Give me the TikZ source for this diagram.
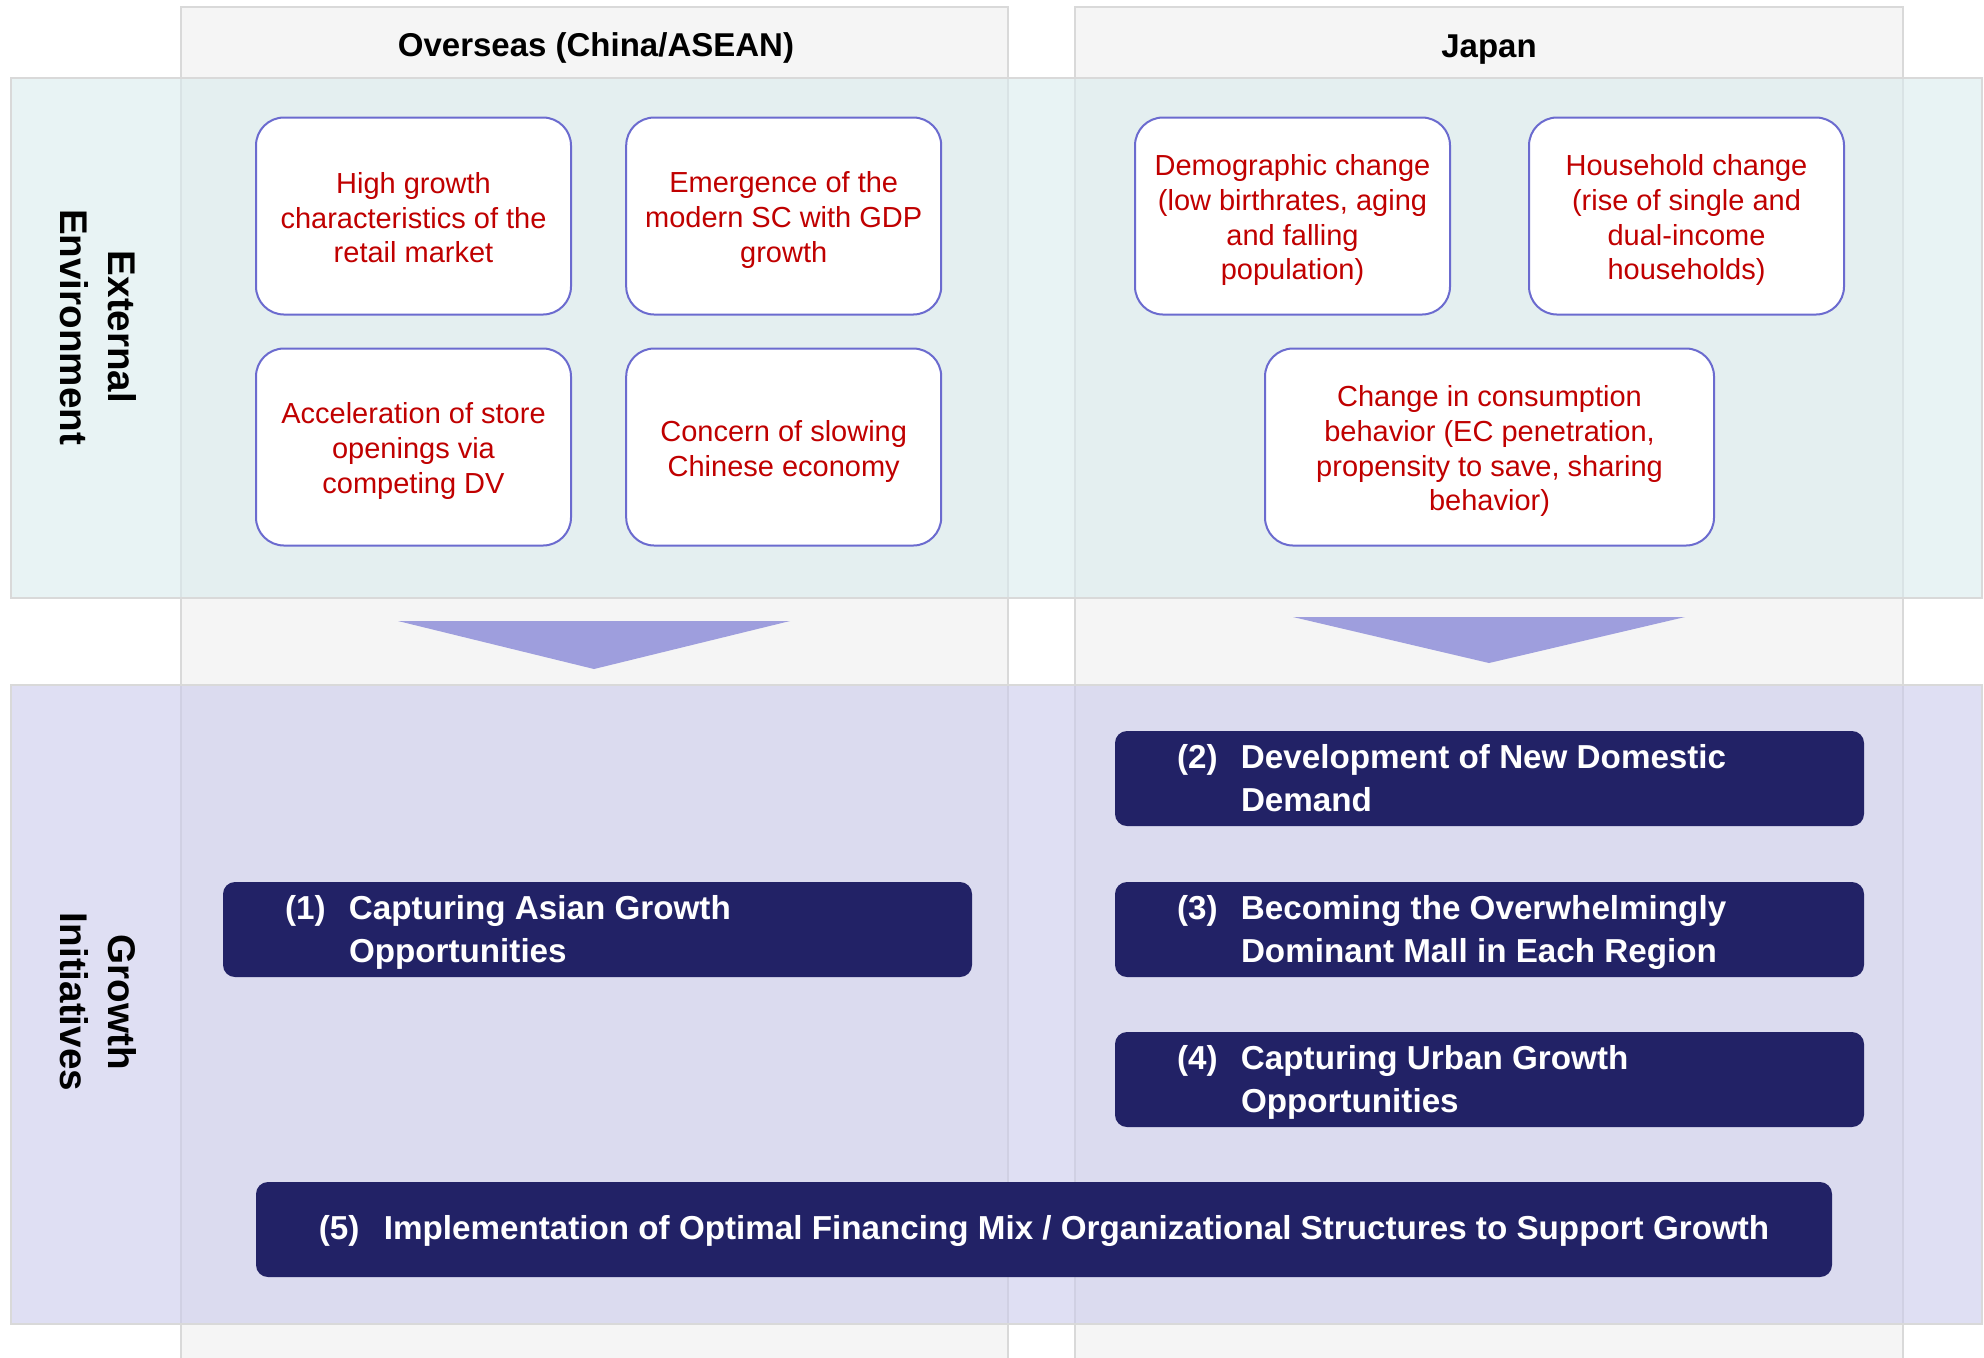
\documentclass[tikz,border=0pt]{standalone}
\usepackage{fontspec}
\setmainfont{Liberation Sans}
\usepackage{array}

\definecolor{colfill}{HTML}{F5F5F5}
\definecolor{gridline}{HTML}{D9D9D9}
\definecolor{envband}{RGB}{217,235,238}
\definecolor{initband}{RGB}{202,203,235}
\definecolor{arrowfill}{HTML}{9E9EDD}
\definecolor{boxline}{HTML}{6B6BCF}
\definecolor{redtext}{HTML}{C00000}
\definecolor{navy}{HTML}{222266}

% struts for the factor boxes: full ascent on the first line, full descent on the last
\newcommand\fsa{\rule{0pt}{14.7pt}}
\newcommand\fsz{\rule[-2.7pt]{0pt}{2.7pt}}

\begin{document}
\begin{tikzpicture}[x=0.5pt,y=-0.5pt,
  grid/.style={draw=gridline, line width=1pt},
  header/.style={font=\bfseries\fontsize{16.5}{20}\selectfont, text=black},
  sidelabel/.style={rotate=-90, align=center, font=\bfseries\fontsize{19.3}{24}\selectfont},
  envbox/.style={draw=boxline, line width=1pt, fill=white, rounded corners=14pt,
    minimum width=157.5pt, minimum height=98.5pt, inner sep=0pt, align=center,
    text=redtext, font=\fontsize{14.5}{17.4}\selectfont},
  initbox/.style={fill=navy, rounded corners=6pt, minimum width=374.5pt,
    minimum height=47.5pt, inner sep=0pt},
  inittext/.style={text=white, inner sep=0pt, font=\bfseries\fontsize{16.6}{21.5}\selectfont},
  trend/.style={fill=arrowfill}
]
\useasboundingbox (0,0) rectangle (1984,1357);
\fill[white] (0,0) rectangle (1984,1357);

% region columns
\fill[colfill] (181,7) rectangle (1008,1362);
\draw[grid] (181,1362) -- (181,7) -- (1008,7) -- (1008,1362);
\fill[colfill] (1075,7) rectangle (1903,1362);
\draw[grid] (1075,1362) -- (1075,7) -- (1903,7) -- (1903,1362);
\draw[grid] (181,78) -- (1008,78);
\draw[grid] (1075,78) -- (1903,78);

\node[header] (hOverseas) at (596,47.5) {Overseas (China/ASEAN)};
\node[header] (hJapan) at (1489,50) {Japan};

% horizontal bands
\fill[envband, opacity=0.6] (11,78) rectangle (1982,598);
\draw[grid] (11,78) rectangle (1982,598);
\fill[initband, opacity=0.6] (11,685) rectangle (1982,1324);
\draw[grid] (11,685) rectangle (1982,1324);

\node[sidelabel] (lblEnv) at (98.5,327) {External\\Environment};
\node[sidelabel] (lblInit) at (98.5,1002) {Growth\\Initiatives};

% external environment factors
\node[envbox] (e1) at (413.5,216) {\fsa High growth\\characteristics of the\\retail market\fsz};
\node[envbox] (e2) at (783.7,216) {\fsa Emergence of the\\modern SC with GDP\\growth\fsz};
\node[envbox] (e3) at (413.5,447) {\fsa Acceleration of store\\openings via\\competing DV\fsz};
\node[envbox] (e4) at (783.7,447) {\fsa Concern of slowing\\Chinese economy\fsz};
\node[envbox] (e5) at (1292.5,216) {\fsa Demographic change\\(low birthrates, aging\\and falling\\population)\fsz};
\node[envbox] (e6) at (1686.5,216) {\fsa Household change\\(rise of single and\\dual-income\\households)\fsz};
\node[envbox, minimum width=224.5pt] (e7) at (1489.5,447) {\fsa Change in consumption\\behavior (EC penetration,\\propensity to save, sharing\\behavior)\fsz};

% downward chevrons
\fill[trend] (398,621) -- (790,621) -- (594,669) -- cycle;
\fill[trend] (1293,617) -- (1685,617) -- (1489,663) -- cycle;

% growth initiatives
\node[initbox] (n1) at (597.5,929.5) {};
\node[initbox] (n2) at (1489.5,778.5) {};
\node[initbox] (n3) at (1489.5,929.5) {};
\node[initbox] (n4) at (1489.5,1079.5) {};
\node[initbox, minimum width=788pt] (n5) at (1044,1229.5) {};

\node[inittext, anchor=west] (t1) at ([xshift=31pt,yshift=-1.5pt]n1.west)
  {\begin{tabular}{@{}p{32pt}@{}l@{}}(1) & Capturing Asian Growth\\ & Opportunities\end{tabular}};
\node[inittext, anchor=west] (t2) at ([xshift=31pt,yshift=-1.5pt]n2.west)
  {\begin{tabular}{@{}p{32pt}@{}l@{}}(2) & Development of New Domestic\\ & Demand\end{tabular}};
\node[inittext, anchor=west] (t3) at ([xshift=31pt,yshift=-1.5pt]n3.west)
  {\begin{tabular}{@{}p{32pt}@{}l@{}}(3) & Becoming the Overwhelmingly\\ & Dominant Mall in Each Region\end{tabular}};
\node[inittext, anchor=west] (t4) at ([xshift=31pt,yshift=-1.5pt]n4.west)
  {\begin{tabular}{@{}p{32pt}@{}l@{}}(4) & Capturing Urban Growth\\ & Opportunities\end{tabular}};
\node[inittext] (t5) at ([yshift=-0.7pt]n5.center)
  {\makebox[32.5pt][l]{(5)}Implementation of Optimal Financing Mix / Organizational Structures to Support Growth};
\end{tikzpicture}
\end{document}
